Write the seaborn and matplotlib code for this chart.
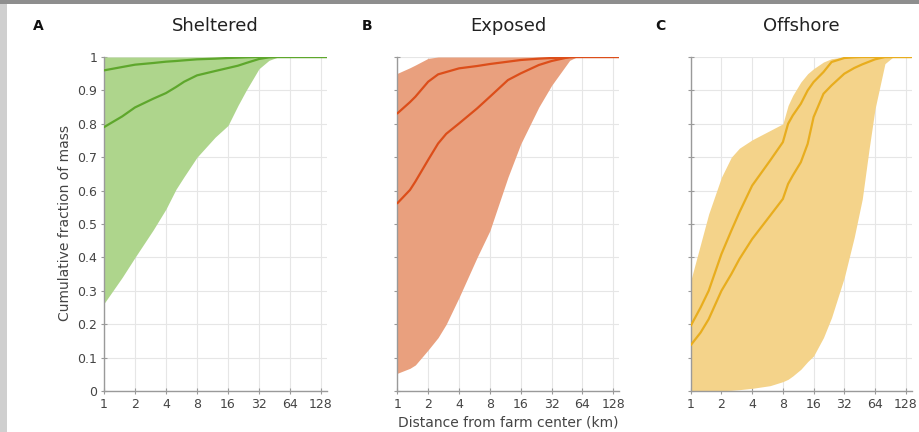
import numpy as np
import pandas as pd
import matplotlib
matplotlib.use("Agg")
import matplotlib.pyplot as plt
import seaborn as sns

# ---------------- data ----------------
panel_titles = ["Sheltered", "Exposed", "Offshore"]
panel_letters = ["A", "B", "C"]
x_ticks = [1, 2, 4, 8, 16, 32, 64, 128]
y_ticks = [0, 0.1, 0.2, 0.3, 0.4, 0.5, 0.6, 0.7, 0.8, 0.9, 1]
y_tick_labels = ["0", "0.1", "0.2", "0.3", "0.4", "0.5", "0.6", "0.7", "0.8", "0.9", "1"]

# Sheltered
sh_x = [1, 1.5, 2, 3, 4, 5, 6, 8, 12, 16, 20, 24, 32, 40, 48, 64, 146]
sh_upper = [0.960, 0.970, 0.977, 0.982, 0.986, 0.988, 0.990, 0.993, 0.995, 0.997, 0.998, 0.999, 1, 1, 1, 1, 1]
sh_lower = [0.790, 0.822, 0.849, 0.875, 0.892, 0.910, 0.926, 0.945, 0.958, 0.967, 0.974, 0.982, 0.994, 0.999, 1, 1, 1]
sh_band_lo = [0.262, 0.340, 0.400, 0.482, 0.545, 0.604, 0.642, 0.700, 0.760, 0.795, 0.855, 0.900, 0.965, 0.990, 0.999, 1, 1]
sh_band_hi = [1] * 17

# Exposed
ex_x = [1, 1.33, 1.5, 2, 2.5, 3, 4, 6, 8, 12, 16, 24, 32, 48, 56, 64, 146]
ex_upper = [0.831, 0.865, 0.881, 0.926, 0.948, 0.955, 0.966, 0.973, 0.979, 0.986, 0.991, 0.995, 0.997, 0.999, 1, 1, 1]
ex_lower = [0.562, 0.602, 0.627, 0.692, 0.741, 0.770, 0.801, 0.846, 0.881, 0.931, 0.951, 0.976, 0.988, 1.0, 1, 1, 1]
ex_band_lo = [0.053, 0.068, 0.078, 0.123, 0.160, 0.200, 0.280, 0.400, 0.480, 0.640, 0.740, 0.850, 0.915, 0.990, 1.0, 1, 1]
ex_band_hi = [0.951, 0.968, 0.976, 0.996, 1, 1, 1, 1, 1, 1, 1, 1, 1, 1, 1, 1, 1]

# Offshore
of_x = [1, 1.25, 1.5, 2, 2.5, 3, 4, 6, 8, 9, 10, 12, 14, 16, 20, 24, 32, 40, 48, 56, 64, 80, 96, 146]
of_upper = [0.195, 0.250, 0.300, 0.410, 0.480, 0.535, 0.615, 0.690, 0.745, 0.800, 0.825, 0.860, 0.900, 0.925,
            0.955, 0.985, 0.997, 0.999, 1, 1, 1, 1, 1, 1]
of_lower = [0.137, 0.175, 0.215, 0.300, 0.350, 0.395, 0.455, 0.525, 0.575, 0.620, 0.645, 0.685, 0.740, 0.820,
            0.890, 0.915, 0.950, 0.967, 0.978, 0.986, 0.993, 1.0, 1, 1]
of_band_lo = [0, 0, 0, 0.001, 0.002, 0.004, 0.008, 0.016, 0.028, 0.035, 0.045, 0.065, 0.088, 0.105,
              0.160, 0.220, 0.340, 0.460, 0.575, 0.725, 0.845, 0.980, 1.0, 1]
of_band_hi = [0.330, 0.440, 0.530, 0.640, 0.700, 0.727, 0.752, 0.780, 0.800, 0.855, 0.885, 0.925, 0.950, 0.965,
              0.985, 0.995, 1, 1, 1, 1, 1, 1, 1, 1]

line_colors = ["#5ea72c", "#dc4e1a", "#e8ad1e"]
fill_colors = ["#aed58c", "#e9a07e", "#f4d38a"]

panels = [
    (sh_x, sh_upper, sh_lower, sh_band_lo, sh_band_hi),
    (ex_x, ex_upper, ex_lower, ex_band_lo, ex_band_hi),
    (of_x, of_upper, of_lower, of_band_lo, of_band_hi),
]

# ---------------- figure ----------------
sns.set_theme(style="whitegrid")
plt.rcParams["font.family"] = ["DejaVu Sans"]

W, H = 920, 432
fig = plt.figure(figsize=(W / 100, H / 100), dpi=100)
fig.patch.set_facecolor("white")

# screenshot frame bits
fig.patches.append(plt.Rectangle((0, 1 - 4 / H), 1, 4 / H, transform=fig.transFigure,
                                 facecolor="#8e8e8e", edgecolor="none", zorder=-1))
fig.patches.append(plt.Rectangle((0, 0), 7 / W, 1 - 4 / H, transform=fig.transFigure,
                                 facecolor="#cfcfcf", edgecolor="none", zorder=-1))

lefts = [104, 397.3, 690.7]
widths = [223, 222, 221]
top_px, bot_px = 57, 391
xmax = 2 ** (7 + 6 / 31)

for i, (xs, up, lo, blo, bhi) in enumerate(panels):
    ax = fig.add_axes([lefts[i] / W, 1 - bot_px / H, widths[i] / W, (bot_px - top_px) / H])
    ax.set_facecolor("white")
    ax.set_xscale("log", base=2)
    ax.fill_between(xs, blo, bhi, color=fill_colors[i], linewidth=0, zorder=1)
    df = pd.DataFrame({"x": xs + xs,
                       "y": up + lo,
                       "s": ["upper"] * len(xs) + ["lower"] * len(xs)})
    sns.lineplot(data=df, x="x", y="y", units="s", estimator=None, ax=ax,
                 color=line_colors[i], linewidth=1.6, zorder=3, legend=False)
    ax.set_xlim(1, xmax)
    ax.set_ylim(0, 1)
    ax.set_xticks(x_ticks)
    ax.set_xticklabels([str(t) for t in x_ticks])
    ax.xaxis.set_minor_locator(matplotlib.ticker.NullLocator())
    ax.set_yticks(y_ticks)
    if i == 0:
        ax.set_yticklabels(y_tick_labels)
    else:
        ax.set_yticklabels([])
    ax.set_xlabel("")
    ax.set_ylabel("")
    ax.grid(True, color="#e6e6e6", linewidth=0.8, zorder=0)
    ax.set_axisbelow(True)
    for s in ["top", "right"]:
        ax.spines[s].set_visible(False)
    for s in ["left", "bottom"]:
        ax.spines[s].set_visible(True)
        ax.spines[s].set_color("#9a9a9a")
        ax.spines[s].set_linewidth(1.0)
    ax.tick_params(axis="both", which="major", direction="inout", length=4, width=0.8,
                   color="#9a9a9a", labelcolor="#444444", labelsize=9, pad=3,
                   left=True, bottom=True)
    ax.set_title(panel_titles[i], fontsize=13, color="#222222", pad=19)
    fig.text((lefts[i] - (66 if i == 0 else 30)) / W, 1 - 26 / H, panel_letters[i],
             ha="center", va="center", fontsize=10, fontweight="bold", color="#111111")

fig.text(65 / W, 1 - 223 / H, "Cumulative fraction of mass", rotation=90,
         ha="center", va="center", fontsize=10, color="#444444")
fig.text(508 / W, 1 - 423 / H, "Distance from farm center (km)",
         ha="center", va="center", fontsize=10, color="#444444")

fig.savefig("out.png", dpi=100, facecolor="white")
